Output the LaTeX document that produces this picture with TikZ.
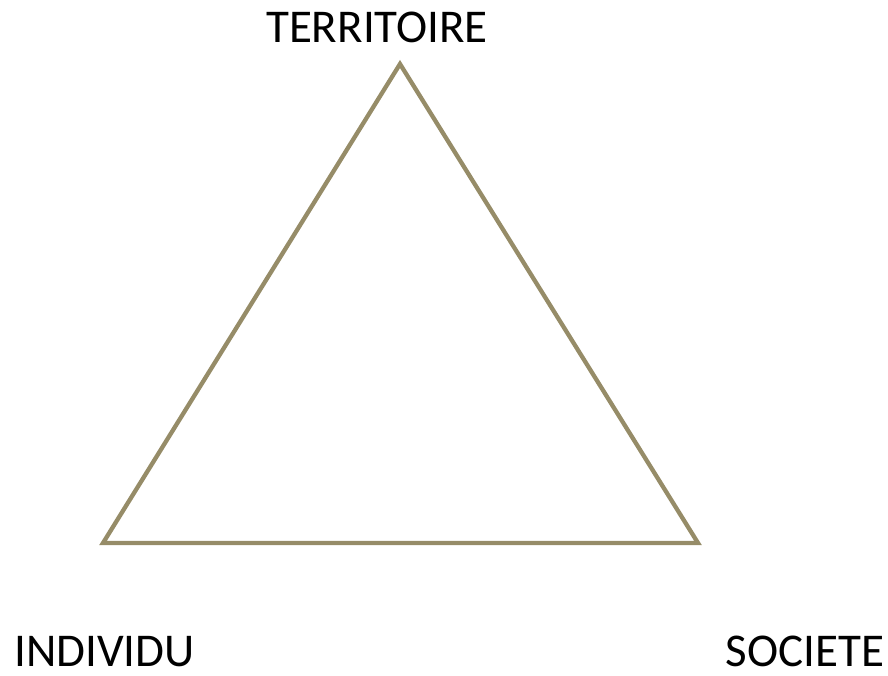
\documentclass[tikz,border=0pt]{standalone}
\usepackage{fontspec}
\setmainfont{Carlito}
\definecolor{edgecol}{HTML}{968C68}
\tikzset{
  side/.style={draw=edgecol, line width=4.3pt, line join=miter},
  lbl/.style={anchor=base, inner sep=0pt, font=\fontsize{47}{50}\selectfont}
}
\begin{document}
\begin{tikzpicture}[x=1pt,y=1pt]
\useasboundingbox (0,0) rectangle (888,675);
\coordinate (T) at (400,611);
\coordinate (L) at (103,132);
\coordinate (R) at (698,132);
\draw[side] (T) -- (L) -- (R) -- cycle;
\node[lbl] (terr) at (377,632) {TERRITOIRE};
\node[lbl] (ind) at (104.5,9) {INDIVIDU};
\node[lbl] (soc) at (805,8.5) {SOCIETE};
\end{tikzpicture}
\end{document}
